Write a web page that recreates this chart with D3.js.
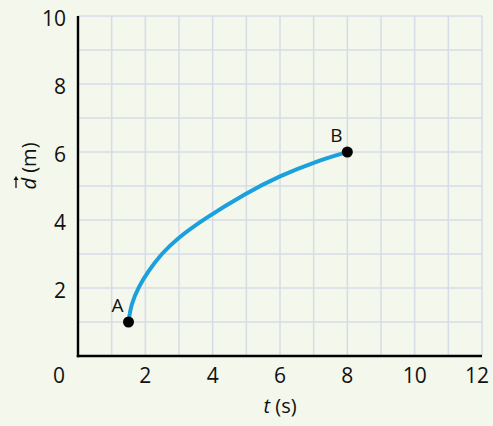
<!DOCTYPE html>
<html><head><meta charset="utf-8">
<script src="https://cdn.jsdelivr.net/npm/d3@7"></script>
<style>
html,body{margin:0;padding:0;background:#f3f7ec;}
svg{display:block;}
text{font-family:"Open Sans","Noto Sans",sans-serif;fill:#111;}
</style></head>
<body>
<svg id="c" width="493" height="426"></svg>
<script>
// data
const tValues = [1.5, 1.57, 1.8, 2.09, 2.49, 2.95, 3.72, 5, 6, 7, 8];
const dValues = [1, 1.5, 2.04, 2.5, 3.02, 3.46, 4.02, 4.8, 5.3, 5.7, 6];
const pointLabels = ["A", "B"];
const pointT = [1.5, 8];
const pointD = [1, 6];
const xTicks = [0, 2, 4, 6, 8, 10, 12];
const yTicks = [2, 4, 6, 8, 10];
const xGrid = d3.range(1, 13);
const yGrid = d3.range(1, 11);

const svg = d3.select("#c");
const x = d3.scaleLinear().domain([0, 12]).range([78, 482]);
const y = d3.scaleLinear().domain([0, 10]).range([356, 16]);

// grid
svg.append("g").selectAll("line").data(xGrid).join("line")
  .attr("x1", d => x(d)).attr("x2", d => x(d))
  .attr("y1", y(0)).attr("y2", y(10))
  .attr("stroke", "#d6dde8").attr("stroke-width", 1.5);
svg.append("g").selectAll("line").data(yGrid).join("line")
  .attr("x1", x(0)).attr("x2", x(12))
  .attr("y1", d => y(d)).attr("y2", d => y(d))
  .attr("stroke", "#d6dde8").attr("stroke-width", 1.5);

// axes lines
svg.append("line").attr("x1", x(0)).attr("x2", x(0)).attr("y1", y(10)).attr("y2", y(0) + 1.2)
  .attr("stroke", "#000").attr("stroke-width", 2.4);
svg.append("line").attr("x1", x(0) - 1.2).attr("x2", x(12)).attr("y1", y(0)).attr("y2", y(0))
  .attr("stroke", "#000").attr("stroke-width", 2.4);

// tick labels
svg.append("g").selectAll("text").data(xTicks).join("text")
  .attr("x", d => d === 0 ? x(0) - 19 : Math.min(x(d), 477))
  .attr("y", 383)
  .attr("text-anchor", "middle")
  .attr("font-size", 21)
  .text(d => d);
svg.append("g").selectAll("text").data(yTicks).join("text")
  .attr("x", 66)
  .attr("y", d => y(d) + 10)
  .attr("text-anchor", "end")
  .attr("font-size", 21)
  .text(d => d);

// axis titles
const xt = svg.append("text").attr("x", x(6)).attr("y", 413).attr("text-anchor", "middle").attr("font-size", 20);
xt.append("tspan").attr("font-style", "italic").text("t");
xt.append("tspan").text(" (s)");

const yg = svg.append("g").attr("transform", "translate(36,166) rotate(-90)");
const yt = yg.append("text").attr("x", 0).attr("y", 0).attr("text-anchor", "middle").attr("font-size", 20);
yt.append("tspan").attr("font-style", "italic").text("d");
yt.append("tspan").text(" (m)");
// vector arrow above d
yg.append("line").attr("x1", -22).attr("x2", -13).attr("y1", -20).attr("y2", -20)
  .attr("stroke", "#111").attr("stroke-width", 1.3);
yg.append("path").attr("d", "M-10,-20 L-14,-22.5 L-14,-17.5 Z").attr("fill", "#111");

// curve
const pts = tValues.map((t, i) => [t, dValues[i]]);
svg.append("path").datum(pts)
  .attr("d", d3.line().x(d => x(d[0])).y(d => y(d[1])).curve(d3.curveBasis))
  .attr("fill", "none").attr("stroke", "#1aa0dc").attr("stroke-width", 4).attr("stroke-linecap", "round");

// points
svg.append("g").selectAll("circle").data(pointT).join("circle")
  .attr("cx", d => x(d)).attr("cy", (d, i) => y(pointD[i])).attr("r", 5.5).attr("fill", "#000");
svg.append("g").selectAll("text").data(pointLabels).join("text")
  .attr("x", (d, i) => x(pointT[i]) - 11)
  .attr("y", (d, i) => y(pointD[i]) - 10)
  .attr("text-anchor", "middle")
  .attr("font-size", 19)
  .text(d => d);
</script>
</body></html>
